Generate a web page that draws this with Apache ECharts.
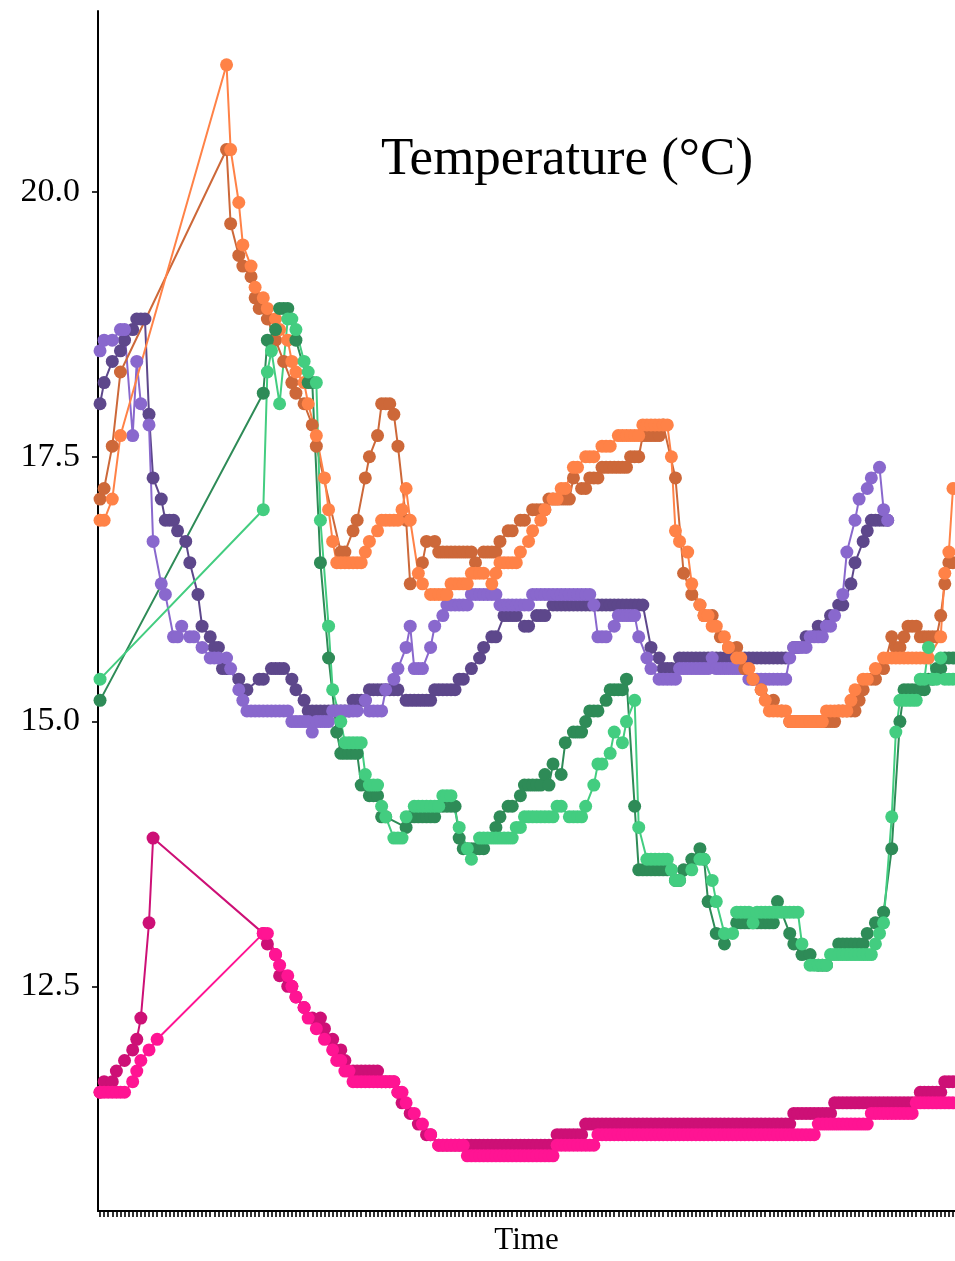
<!DOCTYPE html>
<html>
<head>
<meta charset="utf-8">
<script src="https://cdn.jsdelivr.net/npm/echarts@6/dist/echarts.min.js"></script>
<style>html,body{margin:0;padding:0;background:#fff;}#c{width:955px;height:1261px;}</style>
</head>
<body>
<div id="c"></div>
<script>
const _ = null;
const N_TIMES = 210;
const yTicks = [12.5, 15.0, 17.5, 20.0];

const darkOrange = [
17.1,17.2,_,17.6,_,18.3,_,_,_,_,
_,_,_,_,_,_,_,_,_,_,
_,_,_,_,_,_,_,_,_,_,
_,20.4,19.7,_,19.4,19.3,_,19.2,19.0,18.9,
_,18.8,_,18.6,_,18.4,_,18.2,18.1,_,
18.0,_,17.8,17.6,_,_,_,_,_,16.6,
16.6,_,16.8,16.9,_,17.3,17.5,_,17.7,18.0,
18.0,18.0,17.9,17.6,_,16.9,16.3,_,_,16.5,
16.7,_,16.7,16.6,16.6,16.6,16.6,16.6,16.6,16.6,
16.6,16.6,16.5,_,16.6,16.6,16.6,16.6,16.7,_,
16.8,16.8,_,16.9,16.9,_,17.0,17.0,17.0,17.0,
17.1,17.1,17.1,17.1,17.1,17.1,17.3,_,17.2,17.2,
17.3,17.3,17.3,17.4,17.4,17.4,17.4,17.4,17.4,17.4,
17.5,17.5,17.5,17.7,17.7,17.7,17.7,17.7,17.8,_,
_,17.3,_,16.4,_,16.2,_,16.1,16.0,_,
16.0,_,15.8,_,15.7,_,15.7,_,15.5,_,
15.4,_,15.3,_,_,15.2,_,15.1,_,15.0,
15.0,15.0,15.0,15.0,15.0,15.0,15.0,15.0,15.0,15.0,
15.0,15.1,15.1,15.1,15.1,15.1,15.2,15.3,_,15.4,
15.4,_,15.5,_,15.8,15.7,15.7,15.8,15.9,15.9,
15.9,15.8,15.8,15.8,15.8,15.8,16.0,16.3,16.5,16.5
];

const lightOrange = [
16.9,16.9,_,17.1,_,17.7,_,_,_,_,
_,_,_,_,_,_,_,_,_,_,
_,_,_,_,_,_,_,_,_,_,
_,21.2,20.4,_,19.9,19.5,_,19.3,19.1,_,
19.0,18.9,_,18.8,18.7,_,18.6,18.4,18.3,_,
18.2,18.0,_,17.7,_,17.3,17.0,16.7,16.5,16.5,
16.5,16.5,16.5,16.5,16.5,16.6,16.7,_,16.8,16.9,
16.9,16.9,16.9,16.9,17.0,17.2,16.9,_,16.4,16.3,
_,16.2,16.2,16.2,16.2,16.2,16.3,16.3,16.3,16.3,
16.3,16.4,16.4,16.4,16.4,_,16.3,16.4,16.5,16.5,
16.5,16.5,16.5,16.6,_,16.7,16.8,_,16.9,17.0,
_,17.1,17.1,17.2,17.2,_,17.4,17.4,_,17.5,
17.5,17.5,_,17.6,17.6,17.6,_,17.7,17.7,17.7,
17.7,17.7,17.7,17.8,17.8,17.8,17.8,17.8,17.8,17.8,
17.5,16.8,16.7,_,16.6,16.3,_,16.1,16.0,16.0,
15.9,15.9,_,15.8,15.7,_,15.6,15.6,_,15.5,
15.4,_,15.3,15.2,15.1,15.1,15.1,15.1,15.1,15.0,
15.0,15.0,15.0,15.0,15.0,15.0,15.0,15.0,15.1,15.1,
15.1,15.1,15.1,15.1,15.2,15.3,_,15.4,15.4,_,
15.5,_,15.6,15.6,15.6,15.6,15.6,15.6,15.6,15.6,
15.6,15.6,15.6,15.6,_,_,15.8,16.4,16.6,17.2
];

const darkPurple = [
18.0,18.2,_,18.4,_,18.5,18.6,_,18.7,18.8,
18.8,18.8,17.9,17.3,_,17.1,16.9,16.9,16.9,16.8,
_,16.7,16.5,_,16.2,15.9,_,15.8,15.7,15.7,
15.5,15.5,_,_,15.4,_,15.3,_,_,15.4,
15.4,_,15.5,15.5,15.5,15.5,_,15.4,15.3,_,
15.2,15.1,15.1,15.1,15.1,15.1,15.1,15.1,15.1,15.1,
15.1,15.1,15.2,15.2,15.2,15.2,15.3,15.3,15.3,15.3,
15.3,15.3,15.3,15.3,_,15.2,15.2,15.2,15.2,15.2,
15.2,15.2,15.3,15.3,15.3,15.3,15.3,15.3,15.4,15.4,
_,15.5,_,15.6,15.7,_,15.8,15.8,_,16.0,
16.0,16.0,16.0,_,15.9,15.9,_,16.0,16.0,16.0,
_,16.1,16.1,16.1,16.1,16.1,16.1,16.1,16.1,16.1,
16.1,16.1,16.1,16.1,16.1,16.1,16.1,16.1,16.1,16.1,
16.1,16.1,16.1,16.1,_,15.7,_,15.6,15.5,15.5,
15.5,_,15.6,15.6,15.6,15.6,15.6,15.6,15.6,15.6,
15.6,15.6,15.6,15.6,15.6,15.6,15.6,15.6,15.6,15.6,
15.6,15.6,15.6,15.6,15.6,15.6,15.6,15.6,15.6,_,
15.7,15.7,_,15.8,_,_,15.9,_,_,16.0,
_,16.1,16.1,_,16.3,16.5,_,16.7,16.8,16.9,
16.9,16.9,16.9,16.9,_,_,_,_,_,_,
_,_,_,_,_,_,_,_,_,_
];

const lightPurple = [
18.5,18.6,_,18.6,_,18.7,18.7,_,17.7,18.4,
18.0,_,17.8,16.7,_,16.3,16.2,_,15.8,15.8,
15.9,_,15.8,15.8,_,15.7,_,15.6,15.6,15.6,
_,15.6,15.5,_,15.3,15.2,15.1,15.1,15.1,15.1,
15.1,15.1,15.1,15.1,15.1,15.1,15.1,15.0,15.0,15.0,
15.0,15.0,14.9,15.0,15.0,15.0,15.0,15.1,15.1,15.1,
15.1,15.1,15.1,15.1,_,15.2,15.1,15.1,15.1,15.1,
15.3,_,15.4,15.5,_,15.7,15.9,15.5,15.5,15.5,
_,15.7,15.9,_,16.0,16.1,16.1,16.1,16.1,16.1,
16.1,16.2,16.2,16.2,16.2,16.2,16.2,16.2,16.1,16.1,
16.1,16.1,16.1,16.1,16.1,16.1,16.2,16.2,16.2,16.2,
16.2,16.2,16.2,16.2,16.2,16.2,16.2,16.2,16.2,16.2,
16.2,16.1,15.8,15.8,15.8,_,15.9,16.0,16.0,16.0,
16.0,16.0,15.8,_,15.6,15.5,_,15.4,15.4,15.4,
15.4,15.4,15.5,15.5,15.5,15.5,15.5,15.5,15.5,15.5,
15.6,15.5,15.5,15.5,15.5,15.5,15.5,15.5,15.5,15.4,
15.4,15.4,15.4,15.4,15.4,15.4,15.4,15.4,15.4,15.6,
15.7,15.7,15.7,15.7,15.8,15.8,15.8,15.8,15.9,15.9,
16.0,_,16.2,16.6,_,16.9,17.1,_,17.2,17.3,
_,17.4,17.0,16.9,_,_,_,_,_,_,
_,_,_,_,_,_,_,_,_,_
];

const darkGreen = [
15.2,_,_,_,_,_,_,_,_,_,
_,_,_,_,_,_,_,_,_,_,
_,_,_,_,_,_,_,_,_,_,
_,_,_,_,_,_,_,_,_,_,
18.1,18.6,_,18.7,18.9,18.9,18.9,_,18.6,_,
_,18.2,18.2,_,16.5,_,15.6,_,14.9,14.7,
14.7,14.7,14.7,14.7,14.4,_,14.3,14.3,14.3,14.1,
14.1,_,_,_,_,14.0,14.1,14.1,14.1,14.1,
14.1,14.1,14.1,14.2,14.2,14.2,14.2,14.2,13.9,13.8,
13.8,13.8,13.8,13.8,13.8,_,_,14.0,14.1,_,
14.2,14.2,_,14.3,14.4,14.4,14.4,14.4,14.4,14.5,
14.4,14.6,_,14.5,14.8,_,14.9,14.9,14.9,15.0,
15.1,15.1,15.1,_,15.2,15.3,15.3,15.3,15.3,15.4,
_,14.2,13.6,13.6,13.6,13.6,13.6,13.6,13.6,13.6,
13.6,13.5,13.5,13.6,_,13.7,_,13.8,13.7,13.3,
_,13.0,_,12.9,_,_,13.1,13.1,13.1,13.1,
13.1,13.1,13.1,13.1,13.1,13.1,13.3,_,_,13.0,
12.9,_,12.8,_,12.8,_,12.7,12.7,12.7,_,
_,12.9,12.9,12.9,12.9,12.9,12.9,12.9,13.0,_,
13.1,_,13.2,_,13.8,_,15.0,15.3,15.3,15.3,
15.3,15.3,15.3,15.4,15.4,15.5,15.5,15.6,15.6,15.6
];

const lightGreen = [
15.4,_,_,_,_,_,_,_,_,_,
_,_,_,_,_,_,_,_,_,_,
_,_,_,_,_,_,_,_,_,_,
_,_,_,_,_,_,_,_,_,_,
17.0,18.3,18.5,_,18.0,_,18.8,18.8,18.7,_,
18.4,18.3,_,18.2,16.9,_,15.9,15.3,_,15.0,
14.8,14.8,14.8,14.8,14.8,14.5,14.4,14.4,14.4,14.2,
14.1,_,13.9,13.9,13.9,14.1,_,14.2,14.2,14.2,
14.2,14.2,14.2,14.2,14.3,14.3,14.3,_,14.0,_,
13.8,13.7,_,13.9,13.9,13.9,13.9,13.9,13.9,13.9,
13.9,13.9,14.0,14.0,14.1,14.1,14.1,14.1,14.1,14.1,
14.1,14.1,14.2,14.2,_,14.1,14.1,14.1,14.1,14.2,
_,14.4,14.6,14.6,_,14.7,14.9,_,14.8,15.0,
_,15.2,14.0,_,13.7,13.7,13.7,13.7,13.7,13.7,
13.6,13.5,13.5,_,_,13.6,_,13.7,13.7,_,
13.5,13.3,_,13.0,_,13.0,13.2,13.2,13.2,13.2,
13.1,13.2,13.2,13.2,13.2,13.2,13.2,13.2,13.2,13.2,
13.2,13.2,12.9,_,12.7,12.7,12.7,12.7,12.7,12.8,
12.8,12.8,12.8,12.8,12.8,12.8,12.8,12.8,12.8,12.8,
12.9,13.0,13.1,_,14.1,14.9,15.2,15.2,15.2,15.2,
15.2,15.4,15.4,15.7,15.4,15.4,15.6,15.4,15.4,15.4
];

const darkPink = [
11.5,11.6,_,11.6,11.7,_,11.8,_,11.9,12.0,
12.2,_,13.1,13.9,_,_,_,_,_,_,
_,_,_,_,_,_,_,_,_,_,
_,_,_,_,_,_,_,_,_,_,
13.0,12.9,_,12.8,12.6,_,12.5,12.5,12.4,_,
12.3,_,12.2,_,12.2,12.1,_,12.0,_,11.9,
11.8,_,11.7,11.7,11.7,11.7,11.7,11.7,11.7,11.6,
11.6,11.6,11.6,11.5,11.4,_,11.3,_,11.2,_,
11.1,11.1,_,11.0,11.0,11.0,11.0,11.0,11.0,11.0,
11.0,11.0,11.0,11.0,11.0,11.0,11.0,11.0,11.0,11.0,
11.0,11.0,11.0,11.0,11.0,11.0,11.0,11.0,11.0,11.0,
11.0,11.0,11.1,11.1,11.1,11.1,11.1,11.1,11.1,11.2,
11.2,11.2,11.2,11.2,11.2,11.2,11.2,11.2,11.2,11.2,
11.2,11.2,11.2,11.2,11.2,11.2,11.2,11.2,11.2,11.2,
11.2,11.2,11.2,11.2,11.2,11.2,11.2,11.2,11.2,11.2,
11.2,11.2,11.2,11.2,11.2,11.2,11.2,11.2,11.2,11.2,
11.2,11.2,11.2,11.2,11.2,11.2,11.2,11.2,11.2,11.2,
11.3,11.3,11.3,11.3,11.3,11.3,11.3,11.3,11.3,11.3,
11.4,11.4,11.4,11.4,11.4,11.4,11.4,11.4,11.4,11.4,
11.4,11.4,11.4,11.4,11.4,11.4,11.4,11.4,11.4,11.4,
11.4,11.5,11.5,11.5,11.5,11.5,11.5,11.6,11.6,11.6
];

const lightPink = [
11.5,11.5,11.5,11.5,11.5,11.5,11.5,_,11.6,11.7,
11.8,_,11.9,_,12.0,_,_,_,_,_,
_,_,_,_,_,_,_,_,_,_,
_,_,_,_,_,_,_,_,_,_,
13.0,13.0,_,12.8,12.7,_,12.6,12.5,12.4,_,
12.3,12.2,_,12.1,_,12.0,_,11.9,11.8,11.8,
11.7,11.7,11.6,11.6,11.6,11.6,11.6,11.6,11.6,11.6,
11.6,11.6,11.6,11.5,11.5,11.4,_,11.3,_,11.2,
_,11.1,_,11.0,11.0,11.0,11.0,11.0,11.0,11.0,
10.9,10.9,10.9,10.9,10.9,10.9,10.9,10.9,10.9,10.9,
10.9,10.9,10.9,10.9,10.9,10.9,10.9,10.9,10.9,10.9,
10.9,10.9,11.0,11.0,11.0,11.0,11.0,11.0,11.0,11.0,
11.0,11.0,11.1,11.1,11.1,11.1,11.1,11.1,11.1,11.1,
11.1,11.1,11.1,11.1,11.1,11.1,11.1,11.1,11.1,11.1,
11.1,11.1,11.1,11.1,11.1,11.1,11.1,11.1,11.1,11.1,
11.1,11.1,11.1,11.1,11.1,11.1,11.1,11.1,11.1,11.1,
11.1,11.1,11.1,11.1,11.1,11.1,11.1,11.1,11.1,11.1,
11.1,11.1,11.1,11.1,11.1,11.1,11.2,11.2,11.2,11.2,
11.2,11.2,11.2,11.2,11.2,11.2,11.2,11.2,11.2,11.3,
11.3,11.3,11.3,11.3,11.3,11.3,11.3,11.3,11.3,11.3,
11.4,11.4,11.4,11.4,11.4,11.4,11.4,11.4,11.4,11.4
];

const timeCats = Array.from({length: N_TIMES}, (v, i) => 'T' + (i + 1));

const seriesDefs = [
  {name: 'Purple A', color: '#5D478B', data: darkPurple},
  {name: 'Purple B', color: '#8968CD', data: lightPurple},
  {name: 'Orange A', color: '#CD6839', data: darkOrange},
  {name: 'Orange B', color: '#FF8247', data: lightOrange},
  {name: 'Green A', color: '#2E8B57', data: darkGreen},
  {name: 'Green B', color: '#43CD80', data: lightGreen},
  {name: 'Pink A', color: '#CD1076', data: darkPink},
  {name: 'Pink B', color: '#FF1493', data: lightPink}
];

const FONT = '"Liberation Serif", "DejaVu Serif", serif';

const chart = echarts.init(document.getElementById('c'), null, {renderer: 'canvas'});
chart.setOption({
  animation: false,
  backgroundColor: '#ffffff',
  grid: {left: 98, top: 11, width: 866, height: 1212, containLabel: false},
  xAxis: {
    type: 'category',
    data: timeCats,
    boundaryGap: true,
    name: 'Time',
    nameLocation: 'middle',
    nameGap: 14,
    nameTextStyle: {fontFamily: FONT, fontSize: 31, color: '#000', verticalAlign: 'top', padding: [0, 0, 0, 0]},
    axisLine: {lineStyle: {color: '#000', width: 2}},
    axisTick: {show: true, interval: 0, alignWithLabel: true, length: 6, lineStyle: {color: '#000', width: 1.6}},
    axisLabel: {show: false},
    splitLine: {show: false}
  },
  yAxis: {
    type: 'value',
    min: 10.379,
    max: 21.708,
    axisLine: {show: true, lineStyle: {color: '#000', width: 2}},
    axisTick: {show: true, length: 6, customValues: yTicks, lineStyle: {color: '#000', width: 1.6}},
    axisLabel: {
      show: true, customValues: yTicks, margin: 18,
      fontFamily: FONT, fontSize: 34, color: '#000',
      padding: [6, 0, 0, 0],
      formatter: v => Number(v).toFixed(1)
    },
    splitLine: {show: false}
  },
  graphic: [{
    type: 'text', x: 567, y: 160,
    style: {text: 'Temperature (°C)', fontFamily: FONT, fontSize: 53, fill: '#000', textAlign: 'center', textVerticalAlign: 'middle'}
  }],
  series: seriesDefs.map(s => ({
    name: s.name,
    type: 'line',
    data: s.data,
    connectNulls: true,
    symbol: 'circle',
    symbolSize: 13,
    showSymbol: true,
    showAllSymbol: true,
    lineStyle: {color: s.color, width: 2},
    itemStyle: {color: s.color, opacity: 1},
    emphasis: {disabled: true}
  }))
});
</script>
</body>
</html>
